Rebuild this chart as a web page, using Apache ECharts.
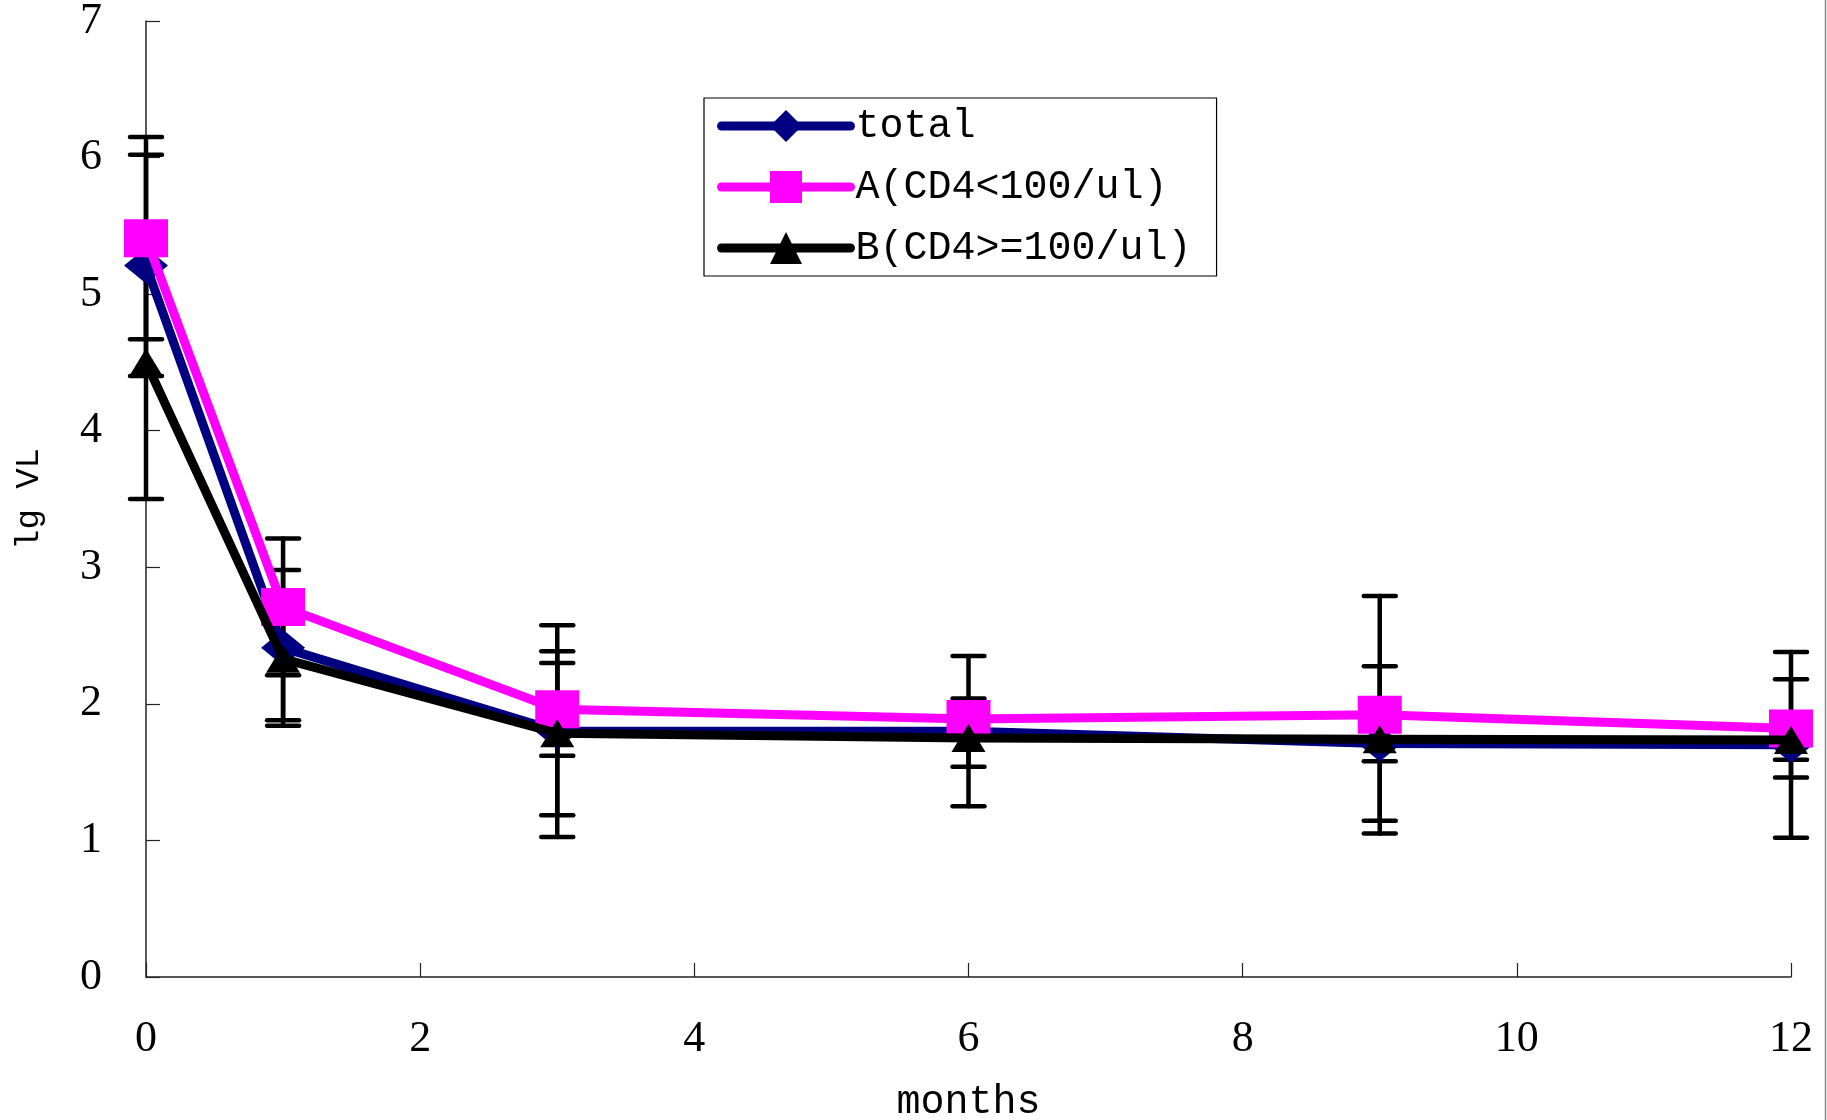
<!DOCTYPE html>
<html>
<head>
<meta charset="utf-8">
<script src="https://cdn.jsdelivr.net/npm/echarts@6/dist/echarts.min.js"></script>
<style>
html,body{margin:0;padding:0;background:#fff;}
#chart{width:1827px;height:1120px;}
</style>
</head>
<body>
<div id="chart"></div>
<script>
// ---- data ----
const months = [0, 1, 3, 6, 9, 12];
const seriesNames = ['total', 'A(CD4<100/ul)', 'B(CD4>=100/ul)'];
const totalVL = [5.21, 2.41, 1.80, 1.80, 1.71, 1.70];
const totalErr = [0.81, 0.57, 0.775, 0.55, 0.565, 0.68];
const groupA_VL = [5.41, 2.71, 1.96, 1.89, 1.92, 1.82];
const groupA_Err = [0.74, 0.50, 0.34, 0.15, 0.87, 0.36];
const groupB_VL = [4.50, 2.33, 1.785, 1.75, 1.74, 1.735];
const groupB_Err = [1.00, 0.45, 0.60, 0.21, 0.16, 0.145];
const xTicks = [0, 2, 4, 6, 8, 10, 12];
const yTicks = [0, 1, 2, 3, 4, 5, 6, 7];

const colors = ['#000080', '#FF00FF', '#000000'];
const symbols = ['diamond', 'rect', 'triangle'];
const symbolSizes = [[44, 36], [44, 38], [34, 28]];
const values = [totalVL, groupA_VL, groupB_VL];
const errs = [totalErr, groupA_Err, groupB_Err];

const chart = echarts.init(document.getElementById('chart'), null, {renderer: 'canvas'});

const series = [];
// error bars (drawn below lines/markers)
values.forEach((vals, si) => {
  series.push({
    type: 'custom',
    name: 'err' + si,
    z: 1,
    silent: true,
    data: months.map((m, i) => [m, vals[i] - errs[si][i], vals[i] + errs[si][i]]),
    renderItem: function (params, api) {
      const x = api.value(0);
      const lo = api.coord([x, api.value(1)]);
      const hi = api.coord([x, api.value(2)]);
      const hw = 16;
      const st = {stroke: '#000', lineWidth: 4.5, lineCap: 'round'};
      return {
        type: 'group',
        children: [
          {type: 'line', shape: {x1: lo[0], y1: lo[1], x2: hi[0], y2: hi[1]}, style: st},
          {type: 'line', shape: {x1: lo[0] - hw, y1: lo[1], x2: lo[0] + hw, y2: lo[1]}, style: st},
          {type: 'line', shape: {x1: hi[0] - hw, y1: hi[1], x2: hi[0] + hw, y2: hi[1]}, style: st}
        ]
      };
    }
  });
});
values.forEach((vals, si) => {
  series.push({
    type: 'line',
    name: seriesNames[si],
    z: 2 + si,
    data: months.map((m, i) => [m, vals[i]]),
    symbol: symbols[si],
    symbolSize: symbolSizes[si],
    showAllSymbol: true,
    lineStyle: {color: colors[si], width: 9, cap: 'round', join: 'round'},
    itemStyle: {color: colors[si], opacity: 1},
    emphasis: {disabled: true},
    animation: false
  });
});

const option = {
  backgroundColor: '#ffffff',
  animation: false,
  grid: {left: 146, right: 36, top: 21, bottom: 143, containLabel: false, outerBoundsMode: 'none'},
  legend: {
    data: seriesNames,
    orient: 'vertical',
    left: 704,
    top: 98,
    padding: [8, 25, 8, 13],
    borderColor: '#000',
    borderWidth: 1.2,
    itemWidth: 129,
    itemHeight: 40,
    itemGap: 21,
    lineStyle: {width: 9, cap: 'round'},
    textStyle: {fontFamily: 'Liberation Mono', fontSize: 40, color: '#000'}
  },
  xAxis: {
    type: 'value',
    min: xTicks[0],
    max: xTicks[xTicks.length - 1],
    interval: xTicks[1] - xTicks[0],
    name: 'months',
    nameLocation: 'middle',
    nameGap: 105,
    nameTextStyle: {fontFamily: 'Liberation Mono', fontSize: 40, color: '#000'},
    axisLine: {show: true, lineStyle: {color: '#222', width: 1.5}},
    axisTick: {show: true, inside: true, length: 14, lineStyle: {color: '#222', width: 1.2}},
    axisLabel: {fontFamily: 'Liberation Serif', fontSize: 44, color: '#000', margin: 40},
    splitLine: {show: false}
  },
  yAxis: {
    type: 'value',
    min: yTicks[0],
    max: yTicks[yTicks.length - 1],
    interval: yTicks[1] - yTicks[0],
    name: 'lg VL',
    nameLocation: 'middle',
    nameRotate: 90,
    nameGap: 100,
    nameTextStyle: {fontFamily: 'Liberation Mono', fontSize: 34, color: '#000'},
    axisLine: {show: true, lineStyle: {color: '#222', width: 1.5}},
    axisTick: {show: true, inside: true, length: 14, lineStyle: {color: '#222', width: 1.2}},
    axisLabel: {fontFamily: 'Liberation Serif', fontSize: 44, color: '#000', margin: 44},
    splitLine: {show: false}
  },
  graphic: [{
    type: 'line', silent: true,
    shape: {x1: 1825.5, y1: 0, x2: 1825.5, y2: 1120},
    style: {stroke: '#888', lineWidth: 1.5}
  }],
  series: series
};
chart.setOption(option);
</script>
</body>
</html>
